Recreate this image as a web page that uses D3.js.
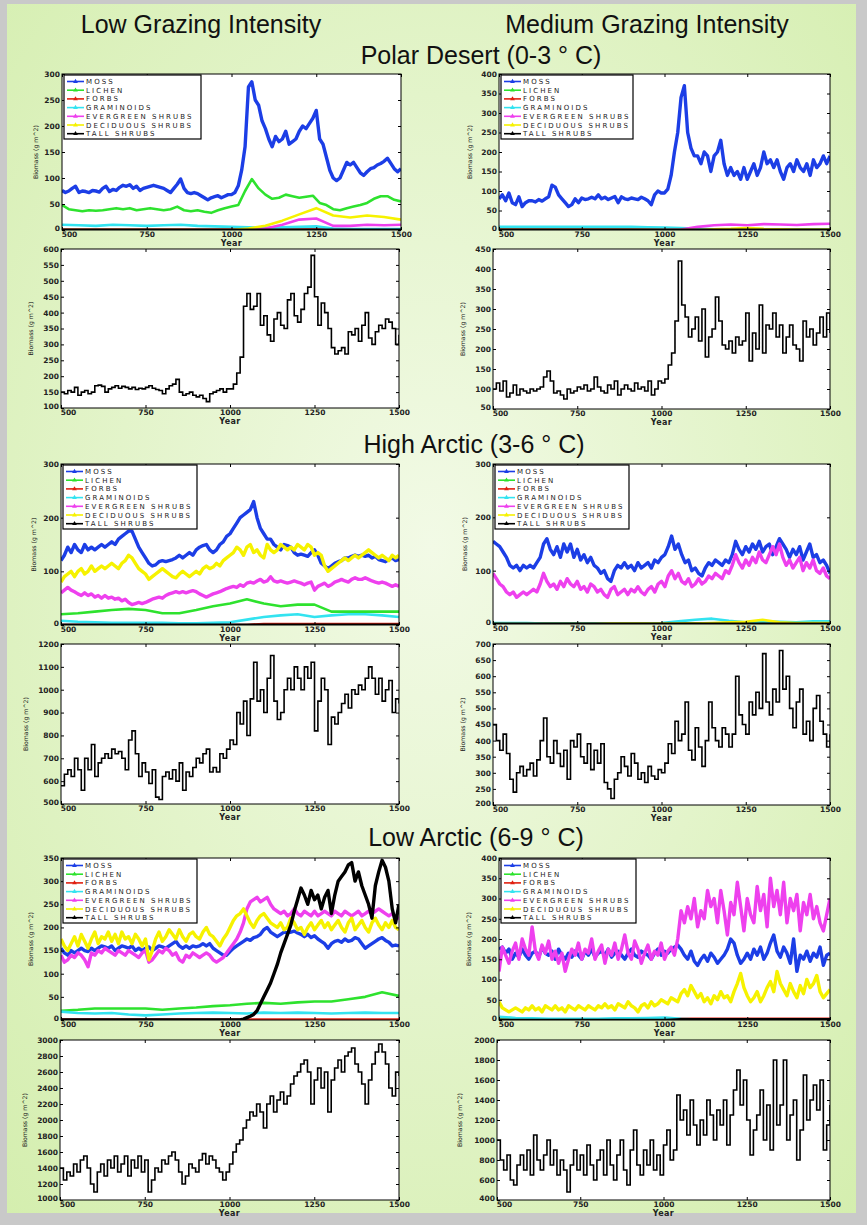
<!DOCTYPE html>
<html><head><meta charset="utf-8">
<script src="https://cdnjs.cloudflare.com/ajax/libs/d3/7.8.5/d3.min.js"></script>
<style>body{margin:0;background:#c9c9c9;} svg{display:block}</style>
</head><body><svg id="chart" width="867" height="1225"></svg>
<script>
// ---------------- DATA ----------------
const columnTitles = ["Low Grazing Intensity", "Medium Grazing Intensity"];
const zoneTitles = ["Polar Desert (0-3 \u00b0 C)", "High Arctic (3-6 \u00b0 C)", "Low Arctic (6-9 \u00b0 C)"];
const speciesNames = ["MOSS","LICHEN","FORBS","GRAMINOIDS","EVERGREEN SHRUBS","DECIDUOUS SHRUBS","TALL SHRUBS"];
const speciesColors = ["#1c3ee6","#2ee22e","#e02010","#33e3f0","#ee40ee","#f6f200","#000000"];
const xTickValues = [500, 750, 1000, 1250, 1500];
const yTicksPDLow = [0,50,100,150,200,250,300];
const yTicksPDMed = [0,50,100,150,200,250,300,350,400];
const yTicksPDLowTall = [100,150,200,250,300,350,400,450,500,550,600];
const yTicksPDMedTall = [50,100,150,200,250,300,350,400,450];
const yTicksHA = [0,100,200,300];
const yTicksHALowTall = [500,600,700,800,900,1000,1100,1200];
const yTicksHAMedTall = [200,250,300,350,400,450,500,550,600,650,700];
const yTicksLALow = [0,50,100,150,200,250,300,350];
const yTicksLAMed = [0,50,100,150,200,250,300,350,400];
const yTicksLALowTall = [1000,1200,1400,1600,1800,2000,2200,2400,2600,2800,3000];
const yTicksLAMedTall = [400,600,800,1000,1200,1400,1600,1800,2000];

// Polar Desert, low grazing (values spread evenly over years 500-1500)
const pdLowMoss = [76,72,75,80,84,72,75,74,72,76, 75,73,80,84,74,78,76,82,86,84, 87,80,84,76,80,82,84,86,84,82,
 80,76,72,80,88,98,80,72,70,72, 70,66,62,58,62,64,66,62,65,68, 68,72,85,115,160,275,285,250,240,210,
 195,175,160,180,170,175,190,165,170,175, 190,200,195,205,215,230,175,165,140,115,
 100,95,100,115,130,125,130,120,110,105, 112,118,120,125,128,132,138,128,118,112, 118];
const pdLowLichen = [48,40,38,36,38,37,38,40,42,40,42,38,40,42,40,38,40,45,38,36,38,35,33,38,42,45,48,75,98,80,
 68,60,62,68,65,62,64,66,52,48,40,38,42,45,48,52,60,65,65,58,55];
const pdLowForbs = [1,1,1,1,1,1,1,1,1,1,1,1,1,1,1,1,1,1,1,1,1];
const pdLowGram = [10,9,8,10,9,8,9,10,8,7,6,5,4,5,6,7,3,2,2,2,2];
const pdLowEver = [0,0,0,0,0,0,0,0,0,0,0,1,3,10,20,22,8,8,10,9,10];
const pdLowDecid = [0,0,0,0,0,0,0,0,0,0,0,3,8,18,30,42,28,24,28,25,20];
const pdLowTallSp = [0.5,0.5,0.5,0.5,0.5,0.5,0.5,0.5,0.5,0.5,0.5,0.5,0.5,0.5,0.5,0.5,0.5,0.5,0.5,0.5,0.5];
const pdLowTall = [150,145,155,150,165,140,150,155,145,150, 170,172,168,150,160,165,170,162,168,165,
 160,165,158,162,160,165,170,162,158,155, 145,160,170,175,190,150,140,145,150,140,
 135,140,130,120,145,150,155,160,150,160, 160,175,210,260,420,460,410,420,460,360,
 390,330,310,380,400,360,350,440,460,390, 370,410,460,480,580,450,360,430,400,350,
 290,270,280,290,270,340,330,350,310,360, 400,320,300,340,360,350,380,370,350,300, 330];

// Polar Desert, medium grazing
const pdMedMoss = [80,90,75,95,70,65,85,60,70,75, 75,72,78,74,80,85,115,110,90,80, 70,60,65,80,70,82,78,80,84,80,
 90,80,84,78,82,86,70,85,80,78, 82,80,78,84,80,75,65,90,100,95, 95,105,140,200,250,340,370,250,210,190,
 190,170,200,190,150,190,200,230,170,140, 160,140,150,130,160,130,150,170,140,160,
 200,170,180,160,180,150,130,160,170,150, 180,160,150,170,140,180,160,170,190,170, 190];
const pdMedLichen = [1,1,1,1,1,1,1,1,1,1,2,4,2,1,1,1,1,1,1,1,1];
const pdMedForbs = [1,1,1,1,1,1,1,1,1,1,1,1,1,1,1,1,1,1,1,1,1];
const pdMedGram = [8,8,8,8,8,8,8,8,8,7,6,5,3,2,2,2,2,2,2,2,2];
const pdMedEver = [0,0,0,0,0,0,0,0,0,0,0,1,8,12,14,12,15,14,13,15,16];
const pdMedDecid = [0,0,0,0,0,0,0,0,0,0,0,0,0,2,3,5,3,2,1,1,1];
const pdMedTallSp = [0.5,0.5,0.5,0.5,0.5,0.5,0.5,0.5,0.5,0.5,0.5,0.5,0.5,0.5,0.5,0.5,0.5,0.5,0.5,0.5,0.5];
const pdMedTall = [100,115,95,120,80,90,110,85,100,95, 90,100,95,100,105,130,145,120,90,95,
 85,75,100,90,95,105,100,110,95,100, 130,105,95,90,110,100,120,85,100,110,
 100,95,115,100,105,95,120,85,100,120, 115,125,160,190,270,420,310,280,230,250,
 280,220,300,180,230,250,330,270,210,200, 220,190,230,210,220,290,170,240,200,310,
 190,260,250,290,230,260,190,230,260,210, 200,170,270,230,250,210,240,280,230,290, 240];

// High Arctic, low grazing
const haLowMoss = [120,130,145,135,150,140,135,150,140,145, 140,145,150,145,150,155,150,160,165,170,
 175,175,160,145,135,125,115,110,112,118, 120,118,120,122,125,130,125,130,135,130,
 140,145,148,150,140,135,140,150,155,165, 170,180,190,200,205,210,215,230,200,180,
 170,160,160,150,145,140,150,148,145,135, 130,132,130,128,135,140,130,115,110,105,
 110,115,118,120,125,125,128,130,128,130, 128,130,125,128,122,120,118,122,125,120, 122];
const haLowLichen = [20,22,25,28,30,28,22,22,28,35,40,48,40,35,38,38,25,25,25,25,25];
const haLowForbs = [0,0,0,0,0,0,0,0,0,0,0,0,2,2,2,2,2,2,2,2,2];
const haLowGram = [8,6,5,4,4,4,4,3,3,4,5,10,15,18,20,15,18,20,20,18,15];
const haLowEver = [60,65,70,65,62,58,55,60,55,58, 52,55,50,55,50,52,48,50,45,48, 42,38,40,42,40,42,45,48,50,52,
 50,55,58,60,62,60,62,60,62,64, 62,58,55,52,55,58,60,62,65,68, 70,72,70,75,72,78,80,78,82,85,
 80,82,90,82,80,82,80,78,80,82, 80,78,75,78,80,65,72,75,78,72, 75,80,82,85,82,80,85,88,85,85,
 88,85,82,80,78,80,78,75,72,75, 72];
const haLowDecid = [80,90,95,100,90,100,105,95,100,110, 100,105,110,105,110,115,110,105,115,120,
 130,125,115,105,100,95,85,90,95,100, 105,100,95,90,88,95,100,95,90,95,
 100,95,105,110,105,108,115,110,120,125, 130,135,145,140,130,145,150,135,140,130,
 125,150,140,135,140,150,145,140,145,140, 150,145,140,150,145,130,135,130,110,100,
 105,110,115,120,125,120,125,130,125,130, 135,140,135,130,125,130,125,120,130,125, 130];
const haLowTallSp = [0.5,0.5,0.5,0.5,0.5,0.5,0.5,0.5,0.5,0.5,0.5,0.5,0.5,0.5,0.5,0.5,0.5,0.5,0.5,0.5,0.5];
const haLowTall = [580,630,650,620,700,650,560,700,650,760, 620,680,700,720,700,740,720,730,700,650,
 780,820,720,620,680,640,590,650,530,520, 620,640,610,650,600,680,560,640,620,660,
 700,680,720,740,640,660,640,720,700,740, 780,760,900,850,950,800,960,1120,950,1000,
 900,1050,1150,950,870,900,1000,1050,1000,1100, 1050,1000,1100,1050,1120,820,950,1050,1000,760,
 880,850,900,940,980,920,1000,980,1020,1000, 1050,1100,1050,980,1050,950,1000,1040,900,960, 940];

// High Arctic, medium grazing
const haMedMoss = [155,150,145,135,125,110,105,110,100,110, 105,110,105,115,125,150,160,140,130,145,
 125,150,135,150,125,140,120,130,115,125, 110,105,95,100,85,80,100,110,105,115,
 105,110,100,115,105,110,115,105,120,115, 125,130,145,165,140,150,130,115,120,100,
 105,95,90,105,115,110,120,115,110,120, 115,130,155,140,130,145,135,150,140,155,
 135,145,150,130,145,160,150,140,125,140, 130,145,120,135,150,125,130,115,120,110, 95];
const haMedLichen = [1,1,1,1,1,1,1,1,1,1,1,1,1,1,1,1,1,1,1,1,1];
const haMedForbs = [0.5,0.5,0.5,0.5,0.5,0.5,0.5,0.5,0.5,0.5,0.5,0.5,0.5,0.5,0.5,0.5,0.5,0.5,0.5,0.5,0.5];
const haMedGram = [2,2,2,1,1,1,1,1,1,1,2,5,8,10,6,3,5,4,3,5,5];
const haMedEver = [95,85,75,70,60,55,60,50,55,60, 55,60,65,60,75,95,80,70,75,65,
 80,70,85,75,70,80,65,70,60,75, 70,60,65,55,50,65,70,55,60,65,
 55,65,60,70,60,55,65,70,60,75, 80,70,90,100,85,95,80,75,85,70,
 75,85,75,80,90,85,95,90,85,100, 95,110,130,115,105,120,110,125,115,135,
 120,115,130,145,130,150,125,110,120,105, 115,125,100,115,105,120,100,95,105,90, 85];
const haMedDecid = [0,0,0,0,0,0,0,1,1,1,1,1,1,2,3,4,8,3,2,2,2];
const haMedTallSp = [0.5,0.5,0.5,0.5,0.5,0.5,0.5,0.5,0.5,0.5,0.5,0.5,0.5,0.5,0.5,0.5,0.5,0.5,0.5,0.5,0.5];
const haMedTall = [450,400,370,420,360,280,240,300,320,290, 310,330,290,340,400,470,350,330,400,360,
 320,370,280,400,380,420,350,330,390,310, 370,330,390,270,250,220,280,300,350,320,
 290,360,330,280,300,270,320,290,280,310, 300,330,390,360,460,400,420,520,370,340,
 440,380,320,400,520,440,400,380,440,420, 380,420,600,480,450,420,520,480,550,500,
 670,520,480,560,520,680,560,600,500,440, 520,560,420,460,400,500,540,460,420,380, 420];

// Low Arctic, low grazing
const laLowMoss = [155,145,140,150,145,150,155,150,148,155, 150,155,160,158,155,160,150,155,160,158,
 155,160,150,155,150,155,158,150,155,160, 158,155,160,165,170,160,155,160,155,160,
 158,160,165,160,165,155,150,145,140,140, 148,155,160,165,170,175,172,178,180,185,
 195,200,190,185,180,185,190,188,190,192, 188,185,180,185,178,182,175,170,165,155,
 165,170,172,168,175,170,172,178,175,165, 155,160,165,170,175,178,172,168,160,162, 160];
const laLowLichen = [20,22,25,25,25,25,22,25,27,30,32,35,37,35,38,40,40,45,50,60,52];
const laLowForbs = [1,1,1,1,1,1,1,1,1,1,1,1,1,1,1,1,1,1,1,1,1];
const laLowGram = [18,15,14,15,12,10,12,14,15,16,15,14,16,15,16,15,14,15,16,15,15];
const laLowEver = [140,125,130,140,135,145,140,130,115,145, 140,150,145,155,150,145,140,150,145,140,
 150,145,140,135,145,150,125,130,140,150, 145,155,150,140,145,130,125,140,135,145,
 140,135,140,145,140,130,125,130,135,145, 155,165,175,190,210,240,255,260,265,255,
 260,265,250,240,235,230,235,225,230,240, 230,225,235,230,225,235,225,230,235,230,
 225,235,230,225,235,230,225,230,235,225, 230,235,230,235,240,235,230,225,230,220, 220];
const laLowDecid = [175,160,150,165,180,160,185,170,155,175, 190,165,180,175,190,170,185,165,190,175,
 180,165,185,175,160,175,130,150,175,190, 170,180,195,185,175,195,180,170,185,190,
 180,175,190,200,185,180,170,160,175,185, 200,215,225,230,240,225,210,200,215,225,
 230,220,210,205,200,210,195,200,220,210, 195,200,185,200,210,195,205,215,200,210,
 195,205,215,200,190,210,220,195,205,215, 200,190,210,220,205,195,210,200,215,200, 195];
const laLowTall = [0,0,0,0,0,0,0,0,0,0, 0,0,0,0,0,0,0,0,0,0, 0,0,0,0,0,0,0,0,0,0, 0,0,0,0,0,0,0,0,0,0,
 0,0,0,0,0,0,0,0,0,0, 0,0,0,0,2,5,8,12,20,35, 50,65,80,100,120,145,165,185,205,235,
 260,285,270,250,280,260,270,240,265,280, 230,270,300,310,320,335,340,300,320,290,
 270,250,220,290,320,345,330,300,240,210, 250];

// Low Arctic, medium grazing
const laMedMoss = [175,180,165,175,150,165,155,175,160,150, 165,170,155,180,165,160,170,150,175,160,
 150,165,155,170,160,150,170,160,175,155, 165,170,160,175,155,165,170,160,150,165,
 175,160,155,170,165,160,150,165,175,160, 170,165,175,180,185,175,160,150,170,145,
 135,150,160,145,165,155,140,150,160,175, 200,190,160,140,150,165,150,175,160,180,
 150,165,190,210,170,155,180,165,140,200, 120,160,150,170,145,165,155,180,135,160, 165];
const laMedLichen = [1,1,1,1,1,1,1,1,1,1,1,1,1,1,1,1,1,1,1,1,1];
const laMedForbs = [0,0,0,0,0,0,0,0,0,0,0,3,3,3,3,3,3,3,3,3,3];
const laMedGram = [8,5,4,3,3,3,3,4,4,5,6,3,1,1,1,1,1,1,1,1,1];
const laMedEver = [120,180,160,140,170,190,150,200,175,160, 230,170,150,185,165,195,150,170,140,165,
 120,150,175,160,190,150,175,165,200,150, 170,185,140,175,160,190,150,175,210,165,
 150,195,175,140,165,185,150,170,160,190, 150,170,180,160,200,270,240,280,250,300,
 230,270,250,320,280,300,240,320,270,210, 290,260,340,280,220,300,260,240,330,270,
 310,230,350,280,320,260,340,240,300,270, 310,220,290,260,310,250,280,240,220,260, 300];
const laMedDecid = [45,30,25,20,25,30,25,20,30,25, 35,25,30,20,35,30,25,35,25,30, 20,35,30,25,35,30,25,35,30,25,
 35,30,40,30,35,25,40,35,30,45, 35,30,20,35,40,30,45,35,40,50, 45,40,55,50,45,65,75,60,85,70,
 55,65,45,55,40,60,50,70,55,60, 45,70,90,115,80,60,45,55,70,45, 60,80,95,70,120,90,75,60,90,70,
 55,85,65,100,80,90,110,70,55,65, 75];
const laMedTallSp = [0,0,0,0,0,0,0,0,0,0,0,2,2,2,2,2,2,2,2,2,2];

const laLowTallTotal = [1400,1250,1350,1300,1450,1350,1500,1550,1400,1200, 1100,1350,1450,1300,1500,1400,1550,1350,1450,1550,
 1300,1500,1400,1550,1350,1500,1100,1250,1400,1350, 1500,1450,1550,1600,1500,1350,1200,1300,1450,1400,
 1350,1500,1580,1450,1550,1500,1400,1350,1250,1350, 1450,1600,1700,1750,1900,2000,2100,2050,2200,2100,
 1900,2200,2300,2100,2250,2350,2200,2300,2450,2550, 2600,2700,2750,2600,2200,2500,2650,2400,2600,2100,
 2500,2650,2750,2600,2800,2850,2900,2700,2600,2450, 2200,2500,2700,2850,2950,2850,2700,2400,2300,2600, 2550];
const laMedTallTotal = [1000,800,700,850,600,550,750,850,700,900, 650,1050,800,700,850,1000,750,900,650,800,
 700,480,750,900,700,850,650,950,750,600, 800,900,650,1000,750,600,850,1000,700,550,
 900,1100,750,650,900,750,1000,700,850,650, 950,1100,800,900,1450,1200,1300,1050,1400,1150,
 950,1200,1050,1400,1250,1000,1300,1150,1400,950, 1250,1500,1700,1350,1600,1200,850,1100,1250,1500,
 1000,1350,900,1800,1150,1350,1800,1000,1250,1400, 800,1100,1650,1200,1400,1550,1300,1600,900,1150, 1350];

// ---------------- PANELS ----------------
const panels = [
 {box:[62,74,401,230], dom:[0,300], ticks:yTicksPDLow, kind:"species", legendW:137, ylabX:38,
  series:[pdLowMoss,pdLowLichen,pdLowForbs,pdLowGram,pdLowEver,pdLowDecid,pdLowTallSp]},
 {box:[499,74,830,230], dom:[0,400], ticks:yTicksPDMed, kind:"species", legendW:132, ylabX:472,
  series:[pdMedMoss,pdMedLichen,pdMedForbs,pdMedGram,pdMedEver,pdMedDecid,pdMedTallSp]},
 {box:[61,249,399,408], dom:[100,600], ticks:yTicksPDLowTall, kind:"tall", ylabX:33, series:[pdLowTall]},
 {box:[493,249,830,409], dom:[50,450], ticks:yTicksPDMedTall, kind:"tall", ylabX:465, series:[pdMedTall]},
 {box:[61,464,399,625], dom:[0,300], ticks:yTicksHA, kind:"species", legendW:134, ylabX:36,
  series:[haLowMoss,haLowLichen,haLowForbs,haLowGram,haLowEver,haLowDecid,haLowTallSp]},
 {box:[493,464,830,624], dom:[0,300], ticks:yTicksHA, kind:"species", legendW:134, ylabX:467,
  series:[haMedMoss,haMedLichen,haMedForbs,haMedGram,haMedEver,haMedDecid,haMedTallSp]},
 {box:[61,644,399,804], dom:[500,1200], ticks:yTicksHALowTall, kind:"tall", ylabX:28, series:[haLowTall]},
 {box:[493,644,830,805], dom:[200,700], ticks:yTicksHAMedTall, kind:"tall", ylabX:465, series:[haMedTall]},
 {box:[61,858,399,1020], dom:[0,350], ticks:yTicksLALow, kind:"species", legendW:134, ylabX:33,
  series:[laLowMoss,laLowLichen,laLowForbs,laLowGram,laLowEver,laLowDecid,laLowTall]},
 {box:[499,858,830,1020], dom:[0,400], ticks:yTicksLAMed, kind:"species", legendW:135, ylabX:471,
  series:[laMedMoss,laMedLichen,laMedForbs,laMedGram,laMedEver,laMedDecid,laMedTallSp]},
 {box:[60,1040,399,1200], dom:[1000,3000], ticks:yTicksLALowTall, kind:"tall", ylabX:27, series:[laLowTallTotal]},
 {box:[497,1040,830,1200], dom:[400,2000], ticks:yTicksLAMedTall, kind:"tall", ylabX:462, series:[laMedTallTotal]}
];

// ---------------- DRAW ----------------
const W = 867, H = 1225;
const svg = d3.select("#chart");
const defs = svg.append("defs");
const rg = defs.append("radialGradient").attr("id","bg").attr("cx","50%").attr("cy","45%").attr("r","75%");
rg.append("stop").attr("offset","0%").attr("stop-color","#f2fae6");
rg.append("stop").attr("offset","100%").attr("stop-color","#d4eeae");
svg.append("rect").attr("width",W).attr("height",H).attr("fill","#c9c9c9");
svg.append("rect").attr("x",7).attr("y",4).attr("width",849).attr("height",1209).attr("fill","url(#bg)");

const titleFont = "'Liberation Sans', Arial, sans-serif";
svg.append("text").attr("x",201).attr("y",33).attr("text-anchor","middle")
  .attr("font-family",titleFont).attr("font-size",25).attr("fill","#111").text(columnTitles[0]);
svg.append("text").attr("x",647).attr("y",33).attr("text-anchor","middle")
  .attr("font-family",titleFont).attr("font-size",25).attr("fill","#111").text(columnTitles[1]);
const zoneY = [64, 453, 846], zoneX = [481, 474, 476];
zoneTitles.forEach((t,i)=>{
  svg.append("text").attr("x",zoneX[i]).attr("y",zoneY[i]).attr("text-anchor","middle")
    .attr("font-family",titleFont).attr("font-size",25).attr("fill","#111").text(t);
});

const smallFont = "'DejaVu Sans', sans-serif";

panels.forEach((p, pi) => {
  const [x0,y0,x1,y1] = p.box;
  const x = d3.scaleLinear().domain([500,1500]).range([x0,x1]);
  const y = d3.scaleLinear().domain(p.dom).range([y1,y0]);
  const g = svg.append("g");
  g.append("rect").attr("x",x0).attr("y",y0).attr("width",x1-x0).attr("height",y1-y0).attr("fill","#fff");
  const cid = "clip"+pi;
  defs.append("clipPath").attr("id",cid).append("rect")
    .attr("x",x0).attr("y",y0-2).attr("width",x1-x0).attr("height",y1-y0+2);
  const plot = g.append("g").attr("clip-path",`url(#${cid})`);

  const toPts = arr => arr.map((v,i)=>[500 + i*1000/(arr.length-1), v]);
  if (p.kind === "species") {
    const line = d3.line().x(d=>x(d[0])).y(d=>y(d[1]));
    p.series.forEach((arr, si) => {
      const big = arr.length > 60;
      plot.append("path").attr("d", line(toPts(arr)))
        .attr("fill","none").attr("stroke",speciesColors[si])
        .attr("stroke-width", big ? 3.4 : 2.6).attr("stroke-linejoin","round");
    });
  } else {
    const line = d3.line().x(d=>x(d[0])).y(d=>y(d[1])).curve(d3.curveStepAfter);
    p.series.forEach(arr => {
      plot.append("path").attr("d", line(toPts(arr)))
        .attr("fill","none").attr("stroke","#000").attr("stroke-width",1.6);
    });
  }

  // axes (inward ticks on all four sides)
  const styleAxis = sel => {
    sel.select(".domain").remove();
    sel.selectAll("line").attr("stroke","#000");
    sel.selectAll("text").attr("font-family",smallFont).attr("font-size",7.5)
      .attr("font-weight","bold").attr("fill","#222");
  };
  const xb = g.append("g").attr("transform",`translate(0,${y1})`)
    .call(d3.axisBottom(x).tickValues(xTickValues).tickSizeInner(-3).tickSizeOuter(0).tickPadding(2).tickFormat(d3.format("d")))
    .call(styleAxis);
  // first label sits just right of the y labels (as in the reference)
  xb.selectAll(".tick text").filter(d => d === 500).attr("dx", 7);
  g.append("g").attr("transform",`translate(0,${y0})`)
    .call(d3.axisTop(x).tickValues(xTickValues).tickSizeInner(-3).tickSizeOuter(0).tickFormat(""))
    .call(styleAxis);
  const yl = g.append("g").attr("transform",`translate(${x0},0)`)
    .call(d3.axisLeft(y).tickValues(p.ticks).tickSizeInner(-3).tickSizeOuter(0).tickPadding(2).tickFormat(d3.format("d")))
    .call(styleAxis);
  yl.selectAll(".tick text").filter(d => d === p.dom[0]).attr("dy", "0.1em");
  g.append("g").attr("transform",`translate(${x1},0)`)
    .call(d3.axisRight(y).tickValues(p.ticks).tickSizeInner(-3).tickSizeOuter(0).tickFormat(""))
    .call(styleAxis);
  g.append("rect").attr("x",x0).attr("y",y0).attr("width",x1-x0).attr("height",y1-y0)
    .attr("fill","none").attr("stroke","#000").attr("stroke-width",1);

  g.append("text").attr("x",(x0+x1)/2).attr("y",y1+16).attr("text-anchor","middle")
    .attr("font-family",smallFont).attr("font-size",8).attr("font-weight","bold")
    .attr("letter-spacing",0.4).attr("fill","#222").text("Year");
  g.append("text").attr("transform",`translate(${p.ylabX},${(y0+y1)/2}) rotate(-90)`)
    .attr("text-anchor","middle").attr("font-family",smallFont).attr("font-size",6.2)
    .attr("fill","#222").text("Biomass (g m^2)");

  if (p.kind === "species") {
    const lg = g.append("g").attr("transform",`translate(${x0+2},${y0+1})`);
    lg.append("rect").attr("width",p.legendW).attr("height",64).attr("fill","#fff")
      .attr("stroke","#000").attr("stroke-width",1.2);
    speciesNames.forEach((n,i)=>{
      const cy = 6.5 + i*8.7;
      lg.append("line").attr("x1",3).attr("x2",20).attr("y1",cy).attr("y2",cy)
        .attr("stroke",speciesColors[i]).attr("stroke-width",1.6);
      lg.append("path").attr("d",d3.symbol(d3.symbolTriangle,10)())
        .attr("transform",`translate(11.5,${cy})`).attr("fill",speciesColors[i]);
      lg.append("text").attr("x",22).attr("y",cy+2.5)
        .attr("font-family",smallFont).attr("font-size",7).attr("letter-spacing",2.1)
        .attr("fill","#222").text(n);
    });
  }
});
</script>
</body></html>
